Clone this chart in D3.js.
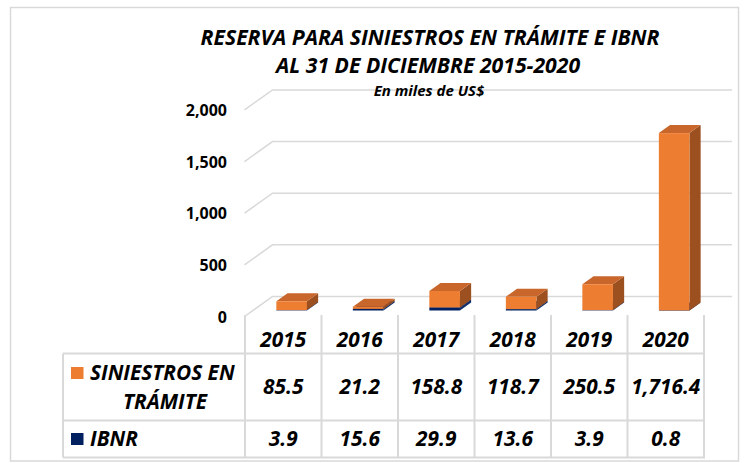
<!DOCTYPE html>
<html>
<head>
<meta charset="utf-8">
<script src="https://cdn.jsdelivr.net/npm/d3@7"></script>
<style>
  html, body { margin: 0; padding: 0; background: #fff; }
  svg { display: block; }
  text { font-family: "Open Sans", sans-serif; fill: #000; }
</style>
</head>
<body>
<svg id="chart" width="745" height="463"></svg>
<script>
// ---- data ----
const years = ["2015", "2016", "2017", "2018", "2019", "2020"];
const siniestros = [85.5, 21.2, 158.8, 118.7, 250.5, 1716.4];
const ibnr = [3.9, 15.6, 29.9, 13.6, 3.9, 0.8];
const yTicks = [0, 500, 1000, 1500, 2000];
const seriesNames = ["SINIESTROS EN TRÁMITE", "IBNR"];
const titleLines = ["RESERVA PARA SINIESTROS EN TRÁMITE E IBNR", "AL 31 DE DICIEMBRE 2015-2020"];
const subtitle = "En miles de US$";

// ---- layout ----
const svg = d3.select("#chart");
const W = 745, H = 463;
const grid = "#d9d9d9";
const depthX = 28, depthY = -20;     // full floor depth
const barFront = 0.3, barDepth = 0.4; // fraction of depth

const x = d3.scaleBand().domain(years).range([245, 704]).paddingInner(0).paddingOuter(0);
const y = d3.scaleLinear().domain([0, 2000]).range([316.5, 109.9]); // front plane

svg.append("rect").attr("width", W).attr("height", H).attr("fill", "#fff");
svg.append("rect").attr("x", 10.5).attr("y", 7.5).attr("width", 728).attr("height", 453.5)
  .attr("fill", "none").attr("stroke", grid).attr("stroke-width", 1.5);

// titles
svg.append("text").attr("x", 430).attr("y", 44.5).attr("text-anchor", "middle")
  .style("font-size", "21.2px").style("font-weight", 700).style("font-style", "italic").text(titleLines[0]);
svg.append("text").attr("x", 428).attr("y", 72.5).attr("text-anchor", "middle")
  .style("font-size", "21.2px").style("font-weight", 700).style("font-style", "italic").text(titleLines[1]);

// gridlines (left wall diagonal + back wall)
const gx0 = x.range()[0] - 0.5;
const gridG = svg.append("g");
yTicks.forEach(t => {
  const yf = y(t);
  gridG.append("path")
    .attr("d", `M${gx0},${yf} L${gx0 + depthX},${yf + depthY} L732,${yf + depthY}`)
    .attr("fill", "none").attr("stroke", grid).attr("stroke-width", 1.5);
});

svg.append("text").attr("x", 429).attr("y", 96).attr("text-anchor", "middle")
  .style("font-size", "15px").style("font-weight", 700).style("font-style", "italic").text(subtitle);

// y labels
svg.append("g").selectAll("text").data(yTicks).join("text")
  .attr("x", 227).attr("y", d => y(d) + 6).attr("text-anchor", "end")
  .style("font-size", "16px").style("font-weight", 700)
  .text(d => d3.format(",")(d));

// stacked 3D bars
const rows = years.map((yr, i) => ({ year: yr, ibnr: ibnr[i], sin: siniestros[i] }));
const stack = d3.stack().keys(["ibnr", "sin"])(rows);
const colors = {
  ibnr: { front: "#002060", top: "#001a4f", side: "#14306b" },
  sin: { front: "#ED7D31", top: "#C8662B", side: "#9C4F1F" }
};
const barW = x.bandwidth() * 0.4;
const offX = barFront * depthX, offY = barFront * depthY;
const bdx = barDepth * depthX, bdy = barDepth * depthY;

const barsG = svg.append("g");
rows.forEach((r, i) => {
  stack.forEach(layer => {
    const key = layer.key;
    const d = layer[i];
    const c = colors[key];
    const L = x(r.year) + (x.bandwidth() - barW) / 2 + offX;
    const R = L + barW;
    const yb = y(d[0]) + offY, yt = y(d[1]) + offY;
    const g = barsG.append("g");
    g.append("path").attr("d", `M${R},${yb} L${R + bdx},${yb + bdy} L${R + bdx},${yt + bdy} L${R},${yt} Z`).attr("fill", c.side);
    g.append("path").attr("d", `M${L},${yt} L${L + bdx},${yt + bdy} L${R + bdx},${yt + bdy} L${R},${yt} Z`).attr("fill", c.top);
    g.append("rect").attr("x", L).attr("y", yt).attr("width", barW).attr("height", yb - yt).attr("fill", c.front);
  });
});

// data table
const tTop = 353.5, tMid = 420.5, tBot = 457.5, tLeft = 63;
const tableG = svg.append("g").attr("stroke", grid).attr("stroke-width", 2).attr("fill", "none");
const bounds = years.map(yr => x(yr)).concat([x.range()[1]]);
bounds.forEach(bx => tableG.append("line").attr("x1", bx).attr("x2", bx).attr("y1", y(0) - 1.5).attr("y2", tBot));
[tTop, tMid, tBot].forEach(ty => tableG.append("line").attr("x1", tLeft).attr("x2", x.range()[1] + 1).attr("y1", ty).attr("y2", ty));
tableG.append("line").attr("x1", tLeft).attr("x2", tLeft).attr("y1", tTop).attr("y2", tBot);

const tf = sel => sel.style("font-size", "20.8px").style("font-weight", 700).style("font-style", "italic");
const cx = yr => x(yr) + x.bandwidth() / 2;
svg.append("g").selectAll("text").data(years).join("text")
  .attr("x", cx).attr("y", 347).attr("text-anchor", "middle").call(tf).text(d => d);
const fmt = d3.format(",.1f");
svg.append("g").selectAll("text").data(siniestros).join("text")
  .attr("x", (d, i) => cx(years[i])).attr("y", 394).attr("text-anchor", "middle").call(tf).text(d => fmt(d));
svg.append("g").selectAll("text").data(ibnr).join("text")
  .attr("x", (d, i) => cx(years[i])).attr("y", 446).attr("text-anchor", "middle").call(tf).text(d => fmt(d));

// legend keys in table
svg.append("rect").attr("x", 71).attr("y", 367).attr("width", 12.5).attr("height", 12).attr("fill", colors.sin.front);
svg.append("text").attr("x", 90).attr("y", 379.5).call(tf).text("SINIESTROS EN");
svg.append("text").attr("x", 165).attr("y", 408.5).attr("text-anchor", "middle").call(tf).text("TRÁMITE");
svg.append("rect").attr("x", 71).attr("y", 433).attr("width", 12.5).attr("height", 12).attr("fill", colors.ibnr.front);
svg.append("text").attr("x", 90).attr("y", 446).call(tf).text(seriesNames[1]);
</script>
</body>
</html>
